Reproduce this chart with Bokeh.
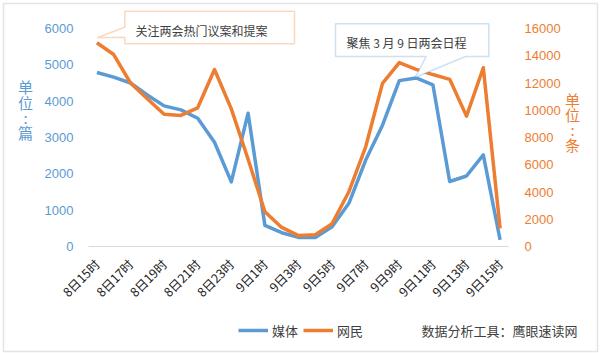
import math
from bokeh.plotting import figure
from bokeh.models import (Range1d, LinearAxis, FixedTicker, Label, PolyAnnotation,
                          Legend, LegendItem)
from bokeh.embed import file_html
from bokeh.resources import INLINE

# ---------------- data ----------------
hours = ["8日15时", "8日16时", "8日17时", "8日18时", "8日19时", "8日20时", "8日21时",
         "8日22时", "8日23时", "9日0时", "9日1时", "9日2时", "9日3时", "9日4时",
         "9日5时", "9日6时", "9日7时", "9日8时", "9日9时", "9日10时", "9日11时",
         "9日12时", "9日13时", "9日14时", "9日15时"]
media = [4790, 4660, 4500, 4170, 3870, 3760, 3530, 2870, 1780, 3670, 580, 380, 250,
         250, 545, 1190, 2380, 3340, 4565, 4640, 4450, 1790, 1940, 2520, 180]
netizens = [14950, 14090, 12000, 10850, 9700, 9620, 10180, 12990, 10100, 6400, 2550,
            1400, 800, 860, 1680, 4020, 7320, 11970, 13500, 13000, 12620, 12270, 9570,
            13120, 1330]
left_ticks = [0, 1000, 2000, 3000, 4000, 5000, 6000]
right_ticks = [0, 2000, 4000, 6000, 8000, 10000, 12000, 14000, 16000]
shown_ticks = list(range(0, len(hours), 2))

series_names = ["媒体", "网民"]
left_unit = ["单", "位", ":", "篇"]
right_unit = ["单", "位", ":", "条"]
note1 = "关注两会热门议案和提案"
note2 = "聚焦 3 月 9 日两会日程"
source_note = "数据分析工具：鹰眼速读网"

BLUE = "#5B9BD5"
ORANGE = "#ED7D31"
TXT = "#404040"
CJK = "Noto Sans CJK SC"
NUM = "Liberation Sans"

# ---------------- layout (plot area in canvas pixels) ----------------
W, H = 600, 353
FL, FR, FT, FB = 88, 508, 28, 246
n = len(hours)
LMAX, RMAX = left_ticks[-1], right_ticks[-1]

step = (FR - FL) / n
x0 = -0.5 - FL / step
x1 = n - 0.5 + (W - FR) / step
ly_per_px = LMAX / (FB - FT)
ry_per_px = RMAX / (FB - FT)
yl0, yl1 = -(H - FB) * ly_per_px, LMAX + FT * ly_per_px
yr0, yr1 = -(H - FB) * ry_per_px, RMAX + FT * ry_per_px


def dx(px):
    return x0 + px / W * (x1 - x0)


def dy(py):
    return yl0 + (H - py) / H * (yl1 - yl0)


p = figure(width=W, height=H, output_backend="svg", toolbar_location=None,
           x_range=Range1d(x0, x1), y_range=Range1d(yl0, yl1),
           min_border=0, x_axis_location=None, y_axis_location=None)
p.extra_y_ranges = {"r": Range1d(yr0, yr1)}
p.outline_line_color = None
p.background_fill_color = "white"
p.border_fill_color = "white"
p.xgrid.visible = False
p.ygrid.visible = False

ly = LinearAxis(ticker=FixedTicker(ticks=left_ticks), axis_line_color=None,
                fixed_location=dx(FL),
                major_tick_line_color=None, minor_tick_line_color=None,
                major_label_text_color=BLUE, major_label_text_font=NUM,
                major_label_text_font_size="13px", major_label_standoff=9)
p.add_layout(ly, "left")

ry = LinearAxis(y_range_name="r", ticker=FixedTicker(ticks=right_ticks), axis_line_color=None,
                fixed_location=dx(FR),
                major_tick_line_color=None, minor_tick_line_color=None,
                major_label_text_color=ORANGE, major_label_text_font=NUM,
                major_label_text_font_size="13px", major_label_standoff=10)
p.add_layout(ry, "right")

xa = LinearAxis(ticker=FixedTicker(ticks=shown_ticks), fixed_location=0,
                bounds=(-0.5, n - 0.5),
                major_label_overrides={i: hours[i] for i in shown_ticks},
                major_label_orientation=math.pi / 4,
                axis_line_color="#d9d9d9", axis_line_width=1,
                major_tick_line_color=None, minor_tick_line_color=None,
                major_label_text_color="#222222", major_label_text_font=CJK,
                major_label_text_font_size="12.5px", major_label_standoff=9)
p.add_layout(xa, "below")

xs = list(range(n))
r1 = p.line(xs, media, line_color=BLUE, line_width=3.5, line_join="round")
r2 = p.line(xs, netizens, line_color=ORANGE, line_width=3.5, line_join="round",
            y_range_name="r")

legend = Legend(items=[LegendItem(label=series_names[0], renderers=[r1]),
                       LegendItem(label=series_names[1], renderers=[r2])],
                location=(238, H - 340), orientation="horizontal",
                glyph_width=30, glyph_height=20, label_height=20, label_standoff=4,
                spacing=5, padding=0, margin=0, border_line_color=None,
                background_fill_alpha=0, label_text_font=CJK,
                label_text_font_size="13px", label_text_color=TXT)
p.add_layout(legend)

# callout 1 (orange)
c1x = [124.3, 294, 294, 124.3, 124.3, 96.7, 124.3]
c1y = [10.7, 10.7, 43.3, 43.3, 36.7, 37.3, 26.7]
p.add_layout(PolyAnnotation(xs=[dx(v) for v in c1x], ys=[dy(v) for v in c1y],
                            fill_color="white", fill_alpha=1, line_color=ORANGE,
                            line_width=1.5))
p.add_layout(Label(x=dx(135), y=dy(29.5), text=note1, text_align="left",
                   text_baseline="middle", text_font=CJK, text_font_size="12px",
                   text_color=TXT))

# callout 2 (blue)
c2x = [335, 488.3, 488.3, 465, 415, 425.7, 335]
c2y = [23.3, 23.3, 56, 56, 76.7, 56, 56]
p.add_layout(PolyAnnotation(xs=[dx(v) for v in c2x], ys=[dy(v) for v in c2y],
                            fill_color="white", fill_alpha=1, line_color=BLUE,
                            line_width=1.5))
p.add_layout(Label(x=dx(346), y=dy(41.7), text=note2, text_align="left",
                   text_baseline="middle", text_font=CJK, text_font_size="12px",
                   text_color=TXT))

# unit labels (stacked characters)
for ch, py in zip(left_unit, [86, 102, 117, 132]):
    p.add_layout(Label(x=dx(25), y=dy(py), text=ch, text_align="center",
                       text_baseline="middle", text_font=CJK, text_font_size="15px",
                       text_color=BLUE))
for ch, py in zip(right_unit, [99, 114, 129, 144]):
    p.add_layout(Label(x=dx(572), y=dy(py), text=ch, text_align="center",
                       text_baseline="middle", text_font=CJK, text_font_size="15px",
                       text_color=ORANGE))

# source note
p.add_layout(Label(x=dx(421), y=dy(329.5), text=source_note, text_align="left",
                   text_baseline="middle", text_font=CJK, text_font_size="13px",
                   text_color=TXT))

# outer border
bx = [3, 597, 597, 3]
by = [3, 3, 351, 351]
p.add_layout(PolyAnnotation(xs=[dx(v) for v in bx], ys=[dy(v) for v in by],
                            fill_alpha=0, line_color="#a6a6a6", line_width=1.5))

open("out.html", "w").write(file_html(p, INLINE))
